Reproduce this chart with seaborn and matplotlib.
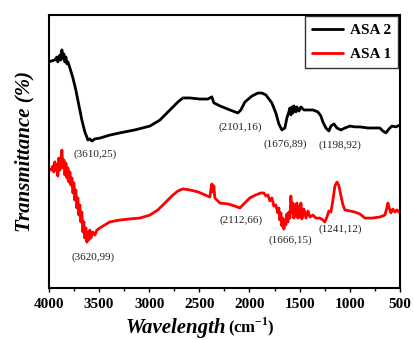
import matplotlib
matplotlib.use("Agg")
import matplotlib.pyplot as plt
import seaborn as sns
import pandas as pd

# ---------------- data ----------------
asa2_wn = [4000, 3970, 3940, 3920, 3910, 3890, 3880, 3870, 3860, 3850, 3840, 3830, 3820, 3810,
           3790, 3760, 3731, 3701, 3671, 3641, 3621, 3611, 3591, 3571, 3541, 3491, 3392, 3292,
           3142, 2993, 2893, 2793, 2714, 2664, 2594, 2494, 2415, 2375, 2355, 2295, 2195, 2116,
           2086, 2046, 1976, 1916, 1876, 1836, 1777, 1737, 1707, 1677, 1647, 1627, 1607, 1597,
           1587, 1577, 1567, 1557, 1537, 1527, 1507, 1487, 1457, 1417, 1367, 1318, 1288, 1268,
           1238, 1208, 1188, 1158, 1128, 1088, 1048, 999, 949, 899, 819, 749, 700, 670, 640,
           610, 580, 540, 500]
asa2_t = [82.8, 83.2, 83.5, 84.6, 82.8, 85.3, 83.5, 87.2, 84.2, 85.7, 82.8, 84.6, 82.1, 82.8,
          80.6, 76.9, 72.5, 67.0, 61.5, 57.1, 55.3, 54.2, 54.6, 53.8, 54.6, 54.9, 56.0, 56.8,
          57.9, 59.3, 61.5, 65.2, 68.1, 69.6, 69.6, 69.2, 69.2, 70.0, 67.8, 66.7, 65.2, 64.1,
          65.2, 68.1, 70.3, 71.4, 71.4, 70.7, 67.8, 64.1, 60.1, 57.9, 58.6, 62.3, 64.5, 65.9,
          63.4, 66.3, 64.1, 66.7, 64.5, 66.3, 64.8, 66.3, 65.2, 65.2, 65.2, 64.5, 63.0, 60.8,
          58.6, 57.5, 59.3, 60.1, 58.6, 57.9, 58.6, 59.3, 59.0, 59.0, 58.6, 58.6, 58.6, 57.5,
          56.8, 58.2, 59.3, 59.0, 59.7]

asa1_wn = [4000, 3980, 3960, 3950, 3940, 3930, 3920, 3910, 3900, 3890, 3880, 3870, 3860, 3850,
           3840, 3830, 3820, 3810, 3800, 3790, 3780, 3770, 3760, 3750, 3741, 3731, 3721, 3711,
           3701, 3691, 3681, 3671, 3661, 3651, 3641, 3631, 3621, 3611, 3601, 3591, 3581, 3561,
           3541, 3521, 3491, 3441, 3392, 3292, 3192, 3093, 2993, 2913, 2843, 2774, 2714, 2664,
           2594, 2514, 2445, 2395, 2385, 2375, 2365, 2355, 2345, 2295, 2215, 2146, 2096, 2056,
           1996, 1936, 1886, 1856, 1836, 1816, 1797, 1777, 1757, 1737, 1717, 1707, 1697, 1687,
           1677, 1667, 1657, 1647, 1637, 1627, 1617, 1607, 1597, 1587, 1577, 1567, 1557, 1547,
           1537, 1527, 1517, 1507, 1497, 1487, 1477, 1457, 1437, 1417, 1397, 1367, 1337, 1298,
           1268, 1248, 1228, 1208, 1188, 1168, 1148, 1128, 1108, 1088, 1068, 1048, 999, 949,
           899, 849, 779, 700, 650, 630, 620, 610, 590, 570, 550, 530, 500]
asa1_t = [43.6, 43.2, 44.7, 42.5, 46.2, 43.2, 45.1, 41.0, 47.6, 43.2, 45.8, 50.5, 44.0, 46.9,
          41.4, 45.8, 40.3, 44.0, 38.8, 42.5, 37.7, 40.3, 34.8, 38.5, 32.2, 35.9, 29.3, 33.0,
          26.7, 30.4, 24.2, 27.8, 20.5, 24.2, 18.3, 22.0, 16.8, 20.5, 17.6, 21.2, 18.3, 20.5,
          19.4, 21.2, 22.0, 23.1, 24.2, 24.9, 25.3, 25.6, 26.7, 28.6, 31.1, 33.7, 35.5, 36.3,
          35.9, 35.2, 34.1, 33.3, 35.9, 38.1, 35.2, 37.4, 33.0, 31.1, 30.8, 30.0, 29.3, 30.8,
          33.0, 34.1, 34.8, 34.8, 33.7, 34.1, 31.9, 33.0, 30.0, 30.4, 27.5, 29.3, 24.9, 27.5,
          22.7, 25.6, 21.6, 24.9, 23.1, 27.1, 24.2, 27.8, 25.6, 33.7, 27.5, 31.1, 25.6, 30.4,
          26.4, 31.1, 25.6, 29.7, 26.0, 31.1, 25.3, 28.9, 25.6, 28.2, 26.0, 26.7, 25.6, 25.6,
          24.9, 24.2, 26.0, 28.2, 27.8, 32.2, 37.4, 38.8, 37.4, 33.7, 30.4, 28.6, 28.2, 27.8,
          27.1, 25.6, 25.6, 26.0, 26.7, 29.3, 31.1, 29.7, 27.5, 28.9, 27.8, 28.6, 27.5]

series_names = ["ASA 2", "ASA 1"]
series_colors = ["black", "#ff0000"]

ann_labels = ["(3610,25)", "(2101,16)", "(1676,89)", "(1198,92)",
              "(3620,99)", "(2112,66)", "(1666,15)", "(1241,12)"]
ann_wn = [3541, 2096, 1647, 1098, 3561, 2086, 1597, 1098]
ann_t = [49.1, 59.0, 52.7, 52.4, 11.4, 24.9, 17.6, 21.6]

x_ticks = [4000, 3500, 3000, 2500, 2000, 1500, 1000, 500]

# ---------------- plot ----------------
sns.set_theme(style="ticks")
plt.rcParams["font.family"] = ["Liberation Serif", "DejaVu Serif"]
plt.rcParams["mathtext.fontset"] = "custom"
plt.rcParams["mathtext.rm"] = "Liberation Serif"
plt.rcParams["mathtext.bf"] = "Liberation Serif:bold"
plt.rcParams["text.color"] = "black"
plt.rcParams["axes.labelcolor"] = "black"
plt.rcParams["xtick.color"] = "black"
plt.rcParams["xtick.labelcolor"] = "black"

df = pd.concat([
    pd.DataFrame({"wn": asa2_wn, "t": asa2_t, "s": series_names[0]}),
    pd.DataFrame({"wn": asa1_wn, "t": asa1_t, "s": series_names[1]}),
])

fig = plt.figure(figsize=(4.14, 3.40), dpi=100)
ax = fig.add_axes([0.118, 0.153, 0.848, 0.803])

sns.lineplot(data=df, x="wn", y="t", hue="s", palette=series_colors,
             hue_order=series_names, sort=False, estimator=None, lw=2.0, ax=ax)

ax.set_xlim(4000, 500)
ax.set_ylim(0, 100)
ax.set_xticks(x_ticks)
ax.set_xticks([3750, 3250, 2750, 2250, 1750, 1250, 750], minor=True)
ax.set_yticks([])
ax.tick_params(axis="x", which="major", direction="out", length=3, width=1,
               labelsize=11, pad=4, colors="black")
ax.tick_params(axis="x", which="minor", direction="out", length=2, width=1, colors="black")
for lbl in ax.get_xticklabels():
    lbl.set_fontweight("bold")
for sp in ax.spines.values():
    sp.set_linewidth(1.5)
    sp.set_color("black")

ax.set_xlabel("")
ax.set_ylabel("Transmittance (%)", fontsize=15, fontweight="bold", style="italic",
              labelpad=10, color="black")

fig.text(0.545, 0.005, "Wavelength", fontsize=15, fontweight="bold", style="italic",
         ha="right", va="bottom", color="black")
fig.text(0.55, 0.005, r"(cm$^{\mathbf{-1}}$)", fontsize=12, fontweight="bold",
         ha="left", va="bottom", color="black")

for lab, x, y in zip(ann_labels, ann_wn, ann_t):
    ax.text(x, y, lab, fontsize=8, ha="center", va="center", color="#222222")

leg = ax.legend(loc="upper right", frameon=True, fancybox=False, shadow=False,
                prop={"weight": "bold", "size": 11}, handlelength=2.0,
                handletextpad=0.5, borderaxespad=0.1, labelspacing=0.7, borderpad=0.45)
leg.get_frame().set_edgecolor("black")
leg.get_frame().set_linewidth(1.0)
for line in leg.get_lines():
    line.set_linewidth(2)

fig.savefig("out.png", dpi=100)
